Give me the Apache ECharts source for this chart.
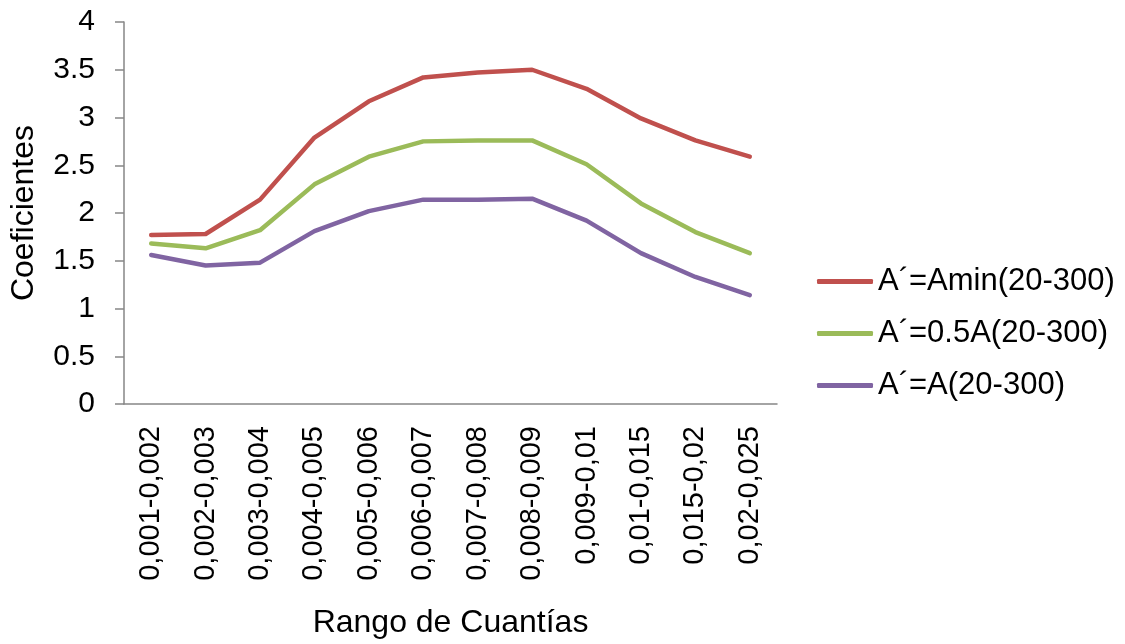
<!DOCTYPE html>
<html>
<head>
<meta charset="utf-8">
<script src="https://cdn.jsdelivr.net/npm/echarts@6/dist/echarts.min.js"></script>
<style>
  html, body { margin: 0; padding: 0; background: #fff; }
  #chart { width: 1125px; height: 644px; }
</style>
</head>
<body>
<div id="chart"></div>
<script>
// Coefficient ranges by quantity bracket
const categories = [
  '0,001-0,002', '0,002-0,003', '0,003-0,004', '0,004-0,005',
  '0,005-0,006', '0,006-0,007', '0,007-0,008', '0,008-0,009',
  '0,009-0,01', '0,01-0,015', '0,015-0,02', '0,02-0,025'
];
const seriesNames = ['A´=Amin(20-300)', 'A´=0.5A(20-300)', 'A´=A(20-300)'];
const aMin  = [1.77, 1.78, 2.14, 2.79, 3.17, 3.42, 3.47, 3.50, 3.30, 2.99, 2.76, 2.59];
const aHalf = [1.68, 1.63, 1.82, 2.30, 2.59, 2.75, 2.76, 2.76, 2.51, 2.10, 1.80, 1.58];
const aFull = [1.56, 1.45, 1.48, 1.81, 2.02, 2.14, 2.14, 2.15, 1.92, 1.58, 1.33, 1.14];
const yTicks = { min: 0, max: 4, interval: 0.5 };

const colors = ['#C0504D', '#9BBB59', '#8064A2'];
const font = 'Liberation Sans, Arial, sans-serif';

const chart = echarts.init(document.getElementById('chart'));

function lineSeries(name, data, color) {
  return {
    name: name,
    type: 'line',
    data: data,
    symbol: 'none',
    smooth: false,
    lineStyle: { color: color, width: 4.5, cap: 'round', join: 'round' },
    itemStyle: { color: color }
  };
}

chart.setOption({
  animation: false,
  color: colors,
  grid: { left: 122, top: 22, right: 348, bottom: 240, containLabel: false },
  legend: {
    orient: 'vertical',
    left: 812,
    top: 261,
    itemWidth: 56,
    itemHeight: 5,
    itemGap: 21,
    icon: 'roundRect',
    data: seriesNames,
    textStyle: { fontFamily: font, fontSize: 31, color: '#000', lineHeight: 31 }
  },
  xAxis: {
    type: 'category',
    data: categories,
    boundaryGap: true,
    name: 'Rango de Cuantías',
    nameLocation: 'middle',
    nameGap: 203,
    nameTextStyle: { fontFamily: font, fontSize: 32, color: '#000' },
    axisLine: { lineStyle: { color: '#868686', width: 1.5 } },
    axisTick: { show: false },
    axisLabel: {
      rotate: 90,
      interval: 0,
      margin: 22,
      fontFamily: font,
      fontSize: 29,
      color: '#000'
    },
    splitLine: { show: false }
  },
  yAxis: {
    type: 'value',
    min: yTicks.min,
    max: yTicks.max,
    interval: yTicks.interval,
    name: 'Coeficientes',
    nameLocation: 'middle',
    nameGap: 84,
    nameRotate: 90,
    nameTextStyle: { fontFamily: font, fontSize: 32, color: '#000' },
    axisLine: { show: true, lineStyle: { color: '#868686', width: 1.5 } },
    axisTick: { show: true, length: 9, lineStyle: { color: '#868686', width: 1.5 } },
    axisLabel: { margin: 29, fontFamily: font, fontSize: 30, color: '#000' },
    splitLine: { show: false }
  },
  series: [
    lineSeries(seriesNames[0], aMin, colors[0]),
    lineSeries(seriesNames[1], aHalf, colors[1]),
    lineSeries(seriesNames[2], aFull, colors[2])
  ]
});
</script>
</body>
</html>
